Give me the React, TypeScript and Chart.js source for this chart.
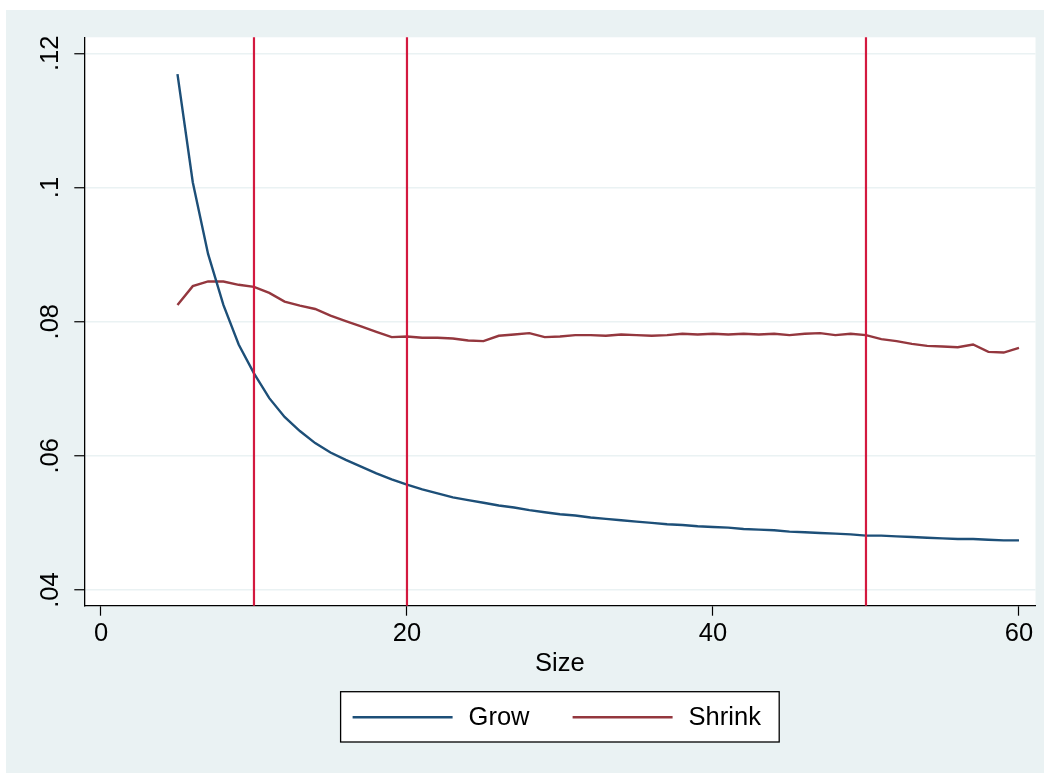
import React, { useEffect, useRef } from "react";
import { Chart, registerables } from "chart.js";

Chart.register(...registerables);

const sizes = [
  5, 6, 7, 8, 9, 10, 11, 12, 13, 14, 15, 16, 17, 18, 19, 20, 21, 22, 23, 24,
  25, 26, 27, 28, 29, 30, 31, 32, 33, 34, 35, 36, 37, 38, 39, 40, 41, 42, 43, 44,
  45, 46, 47, 48, 49, 50, 51, 52, 53, 54, 55, 56, 57, 58, 59, 60,
];

const grow = [
  0.1169, 0.1008, 0.0901, 0.0825, 0.0766, 0.0723, 0.0686, 0.0658, 0.0637, 0.0619,
  0.0605, 0.0594, 0.0584, 0.0574, 0.0565, 0.0557, 0.055, 0.0544, 0.0538, 0.0534,
  0.053, 0.0526, 0.0523, 0.0519, 0.0516, 0.0513, 0.0511, 0.0508, 0.0506, 0.0504,
  0.0502, 0.05, 0.0498, 0.0497, 0.0495, 0.0494, 0.0493, 0.0491, 0.049, 0.0489,
  0.0487, 0.0486, 0.0485, 0.0484, 0.0483, 0.0481, 0.0481, 0.048, 0.0479, 0.0478,
  0.0477, 0.0476, 0.0476, 0.0475, 0.0474, 0.0474,
];

const shrink = [
  0.0825, 0.0853, 0.086, 0.086, 0.0855, 0.0852, 0.0843, 0.083, 0.0824, 0.0819,
  0.0809, 0.0801, 0.0793, 0.0785, 0.0777, 0.0778, 0.0776, 0.0776, 0.0775, 0.0772,
  0.0771, 0.0779, 0.0781, 0.0783, 0.0777, 0.0778, 0.078, 0.078, 0.0779, 0.0781,
  0.078, 0.0779, 0.078, 0.0782, 0.0781, 0.0782, 0.0781, 0.0782, 0.0781, 0.0782,
  0.078, 0.0782, 0.0783, 0.078, 0.0782, 0.078, 0.0774, 0.0771, 0.0767, 0.0764,
  0.0763, 0.0762, 0.0766, 0.0755, 0.0754, 0.0761,
];

const seriesNames = ["Grow", "Shrink"];
const seriesColors = ["#1D4F78", "#94373E"];
const xTicks = [0, 20, 40, 60];
const yTicks = [0.04, 0.06, 0.08, 0.1, 0.12];
const yTickLabels = [".04", ".06", ".08", ".1", ".12"];
const refLines = [10, 20, 50];
const xTitle = "Size";

const FONT = "'Liberation Sans', Arial, Helvetica, sans-serif";
const BG = "#EAF2F3";

export default function App() {
  const ref = useRef<HTMLCanvasElement>(null);

  useEffect(() => {
    if (!ref.current) return;

    const bgPlugin = {
      id: "bgPlugin",
      beforeDraw(chart: any) {
        const { ctx, chartArea: a } = chart;
        ctx.save();
        ctx.fillStyle = BG;
        ctx.fillRect(6, 10, 1038, 763);
        ctx.fillStyle = "#ffffff";
        ctx.fillRect(a.left, a.top, a.right - a.left, a.bottom - a.top);
        ctx.restore();
      },
    };

    const refLinePlugin = {
      id: "refLinePlugin",
      afterDatasetsDraw(chart: any) {
        const { ctx, chartArea: a } = chart;
        const xs = chart.scales.x;
        ctx.save();
        ctx.strokeStyle = "#D3193F";
        ctx.lineWidth = 2.2;
        refLines.forEach((v) => {
          const px = xs.getPixelForValue(v);
          ctx.beginPath();
          ctx.moveTo(px, a.top);
          ctx.lineTo(px, a.bottom);
          ctx.stroke();
        });
        ctx.restore();
      },
    };

    const legendPlugin = {
      id: "boxLegend",
      afterDraw(chart: any) {
        const { ctx, chartArea: a } = chart;
        const cx = (a.left + a.right) / 2;
        const boxW = 438.6;
        const boxH = 50.3;
        const left = cx - boxW / 2;
        const top = 691.7;
        const midY = top + 25.5;
        ctx.save();
        ctx.fillStyle = "#ffffff";
        ctx.fillRect(left, top, boxW, boxH);
        ctx.strokeStyle = "#000000";
        ctx.lineWidth = 1.3;
        ctx.strokeRect(left, top, boxW, boxH);
        const items = chart.data.datasets;
        const offsets = [12, 232];
        items.forEach((ds: any, i: number) => {
          const lx = left + offsets[i];
          ctx.strokeStyle = ds.borderColor;
          ctx.lineWidth = 2.4;
          ctx.beginPath();
          ctx.moveTo(lx, midY);
          ctx.lineTo(lx + 100, midY);
          ctx.stroke();
          ctx.fillStyle = "#000000";
          ctx.font = `25.5px ${FONT}`;
          ctx.textAlign = "left";
          ctx.textBaseline = "middle";
          ctx.fillText(ds.label, lx + 116, midY + 1);
        });
        ctx.restore();
      },
    };

    const chart = new Chart(ref.current, {
      type: "line",
      data: {
        datasets: [
          {
            label: seriesNames[0],
            data: sizes.map((x, i) => ({ x, y: grow[i] })),
            borderColor: seriesColors[0],
            backgroundColor: seriesColors[0],
            borderWidth: 2.4,
            pointRadius: 0,
            tension: 0,
            fill: false,
          },
          {
            label: seriesNames[1],
            data: sizes.map((x, i) => ({ x, y: shrink[i] })),
            borderColor: seriesColors[1],
            backgroundColor: seriesColors[1],
            borderWidth: 2.4,
            pointRadius: 0,
            tension: 0,
            fill: false,
          },
        ],
      },
      plugins: [bgPlugin, refLinePlugin, legendPlugin],
      options: {
        responsive: false,
        animation: false,
        devicePixelRatio: 1,
        events: [],
        layout: { padding: { top: 37.3, right: 12.5, bottom: 93.5, left: 0 } },
        plugins: {
          legend: { display: false },
          tooltip: { enabled: false },
          title: { display: false },
        },
        scales: {
          x: {
            type: "linear",
            min: -1.09,
            max: 61.08,
            afterBuildTicks: (s: any) => {
              s.ticks = xTicks.map((v) => ({ value: v }));
            },
            afterFit: (s: any) => {
              s.height = 73.8;
            },
            ticks: {
              color: "#000",
              font: { family: FONT, size: 25.5 },
              padding: 3,
              maxRotation: 0,
              autoSkip: false,
              callback: (v: any) => String(v),
            },
            grid: {
              drawOnChartArea: false,
              drawTicks: true,
              tickLength: 10,
              tickColor: "#000",
              tickWidth: 1.2,
            },
            border: { display: true, color: "#000", width: 1.3 },
            title: {
              display: true,
              text: xTitle,
              color: "#000",
              font: { family: FONT, size: 25.5 },
              padding: 0,
            },
          },
          y: {
            type: "linear",
            min: 0.03766,
            max: 0.1224,
            afterBuildTicks: (s: any) => {
              s.ticks = yTicks.map((v) => ({ value: v }));
            },
            afterFit: (s: any) => {
              s.width = 84.3;
            },
            ticks: {
              color: "#000",
              font: { family: FONT, size: 25.5 },
              padding: 6,
              minRotation: 90,
              maxRotation: 90,
              crossAlign: "center",
              autoSkip: false,
              callback: (_v: any, i: number) => yTickLabels[i],
            },
            grid: {
              color: BG,
              lineWidth: 1.5,
              drawTicks: true,
              tickLength: 10,
              tickColor: "#000",
              tickWidth: 1.2,
            },
            border: { display: true, color: "#000", width: 1.3 },
          },
        },
      },
    } as any);

    return () => chart.destroy();
  }, []);

  return (
    <div style={{ position: "fixed", left: 0, top: 0, width: 1048, height: 773, background: "#fff" }}>
      <canvas ref={ref} width={1048} height={773} style={{ display: "block" }} />
    </div>
  );
}
